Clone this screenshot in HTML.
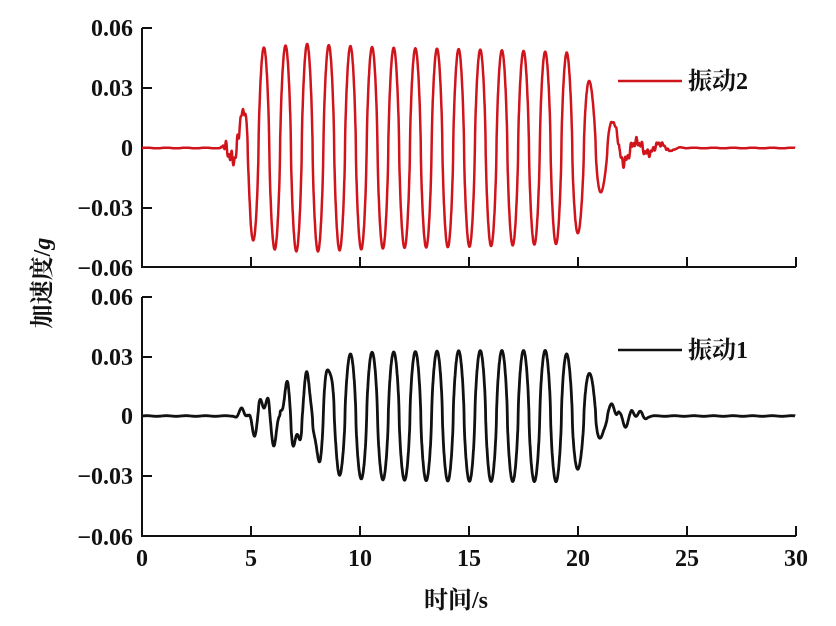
<!DOCTYPE html>
<html><head><meta charset="utf-8"><style>
html,body{margin:0;padding:0;background:#fff;}
svg{display:block;}
text{font-family:"Liberation Serif","Noto Serif CJK SC",serif;font-size:24px;fill:#111;font-weight:bold;}
</style></head><body>
<svg id="s" width="836" height="626" viewBox="0 0 836 626" xmlns="http://www.w3.org/2000/svg">
<g stroke="#111" stroke-width="2" fill="none">
<path d="M142,28 V267 H796"/>
<path d="M142,297 V536 H796"/>
<path d="M142,28 h10 M142,88 h10 M142,148 h10 M142,208 h10"/>
<path d="M142,297 h10 M142,357 h10 M142,416 h10 M142,476 h10"/>
<path d="M251,267 v-10 M360,267 v-10 M469,267 v-10 M578,267 v-10 M687,267 v-10 M796,267 v-10"/>
<path d="M251,536 v-10 M360,536 v-10 M469,536 v-10 M578,536 v-10 M687,536 v-10 M796,536 v-10"/>
</g>
<g text-anchor="end">
<text x="133" y="36">0.06</text><text x="133" y="96">0.03</text><text x="133" y="156">0</text>
<text x="133" y="216">−0.03</text><text x="133" y="276">−0.06</text>
<text x="133" y="305">0.06</text><text x="133" y="365">0.03</text><text x="133" y="424">0</text>
<text x="133" y="484">−0.03</text><text x="133" y="545">−0.06</text>
</g>
<g text-anchor="middle">
<text x="142" y="566">0</text><text x="251" y="566">5</text><text x="360" y="566">10</text>
<text x="469" y="566">15</text><text x="578" y="566">20</text><text x="687" y="566">25</text><text x="796" y="566">30</text>
<text x="456" y="608">时间/s</text>
</g>
<text transform="translate(50,283) rotate(-90)" text-anchor="middle" font-weight="normal">加速度/<tspan font-style="italic">g</tspan></text>
<line x1="618" y1="81" x2="682" y2="81" stroke="#d0141c" stroke-width="2.5"/>
<text x="688" y="89">振动2</text>
<line x1="618" y1="350" x2="682" y2="350" stroke="#111" stroke-width="2.5"/>
<text x="688" y="358">振动1</text>
<path id="r" fill="none" stroke="#d0141c" stroke-width="2.5" stroke-linejoin="round"/>
<path id="k" fill="none" stroke="#111" stroke-width="2.8" stroke-linejoin="round"/>
</svg>
<script>
function interp(pts,t){if(t<=pts[0][0])return pts[0][1];for(var i=1;i<pts.length;i++){if(t<=pts[i][0]){var a=pts[i-1],b=pts[i];return a[1]+(b[1]-a[1])*(t-a[0])/(b[0]-a[0]);}}return pts[pts.length-1][1];}
function shape(s){return Math.sign(s)*Math.pow(Math.abs(s),0.7);}
function phase(t){
 if(t<19.8) return (t-5.35)/0.994;
 var p0=(19.8-5.35)/0.994; return p0+(t-19.8)/1.08;}
function build(env,y0,noise,h2){
 var d="";
 for(var i=0;i<=3000;i++){var t=i*0.01;
  var A=interp(env,t);
  var ph=phase(t);
  var v=A*shape(Math.sin(2*Math.PI*ph));
  v+=interp(h2,t)*Math.sin(2*Math.PI*ph*2.3+1);
  v+=interp(noise,t)*Math.sin(t*37)*Math.sin(t*11);
  v+=0.00015*Math.sin(t*7);
  var x=142+t*21.77, y=y0-v*2000;
  d+=(i?"L":"M")+x.toFixed(1)+","+y.toFixed(1);}
 return d;}
var envR=[[0,0],[3.6,0],[4.2,0.006],[4.7,0.02],[5.0,0.045],[5.5,0.05],[7.5,0.052],[12,0.05],[19.5,0.048],[20.3,0.04],[20.7,0.03],[21.2,0.02],[21.7,0.012],[22.5,0.003],[24,0.002],[25,0]];
var nR=[[0,0],[3.6,0],[3.9,0.004],[4.5,0.004],[4.8,0],[21.5,0],[22,0.003],[23.5,0.002],[24.5,0]];
var envK=[[0,0],[4.2,0],[4.6,0.003],[5.5,0.008],[6.5,0.012],[7.5,0.017],[8.5,0.024],[9.4,0.031],[10.5,0.032],[19.3,0.033],[20,0.027],[20.7,0.02],[21.2,0.008],[21.8,0.004],[22.6,0.002],[23.5,0]];
var hK=[[0,0],[4.3,0],[5,0.004],[7,0.006],[8.5,0.003],[9.5,0],[21.4,0],[21.8,0.003],[22.8,0.002],[23.3,0]];
var h0=[[0,0],[30,0]];
document.getElementById("r").setAttribute("d",build(envR,148,nR,h0));
document.getElementById("k").setAttribute("d",build(envK,416,h0,hK));
</script>
</body></html>
